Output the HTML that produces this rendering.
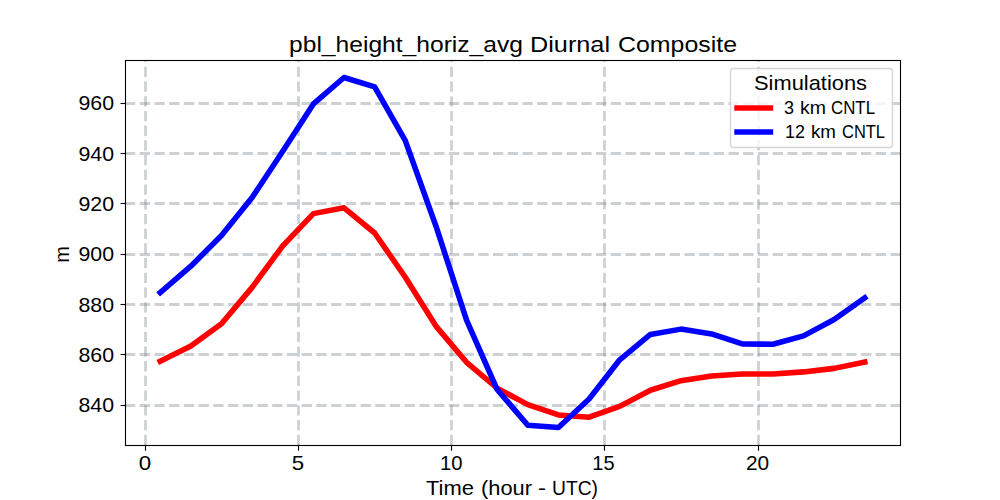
<!DOCTYPE html>
<html><head><meta charset="utf-8"><style>
html,body{margin:0;padding:0;background:#fff;width:1000px;height:500px;overflow:hidden}
svg{display:block}
text{font-family:"Liberation Sans",sans-serif;fill:#000}
</style></head><body>
<svg width="1000" height="500" viewBox="0 0 1000 500">
<rect width="1000" height="500" fill="#fff"/>
<g stroke="rgba(118,128,134,0.36)" stroke-width="2.78" stroke-dasharray="10.28 4.44" fill="none">
<line x1="145.5" y1="445" x2="145.5" y2="60"/>
<line x1="298.5" y1="445" x2="298.5" y2="60"/>
<line x1="451.5" y1="445" x2="451.5" y2="60"/>
<line x1="604.5" y1="445" x2="604.5" y2="60"/>
<line x1="758.5" y1="445" x2="758.5" y2="60"/>
<line x1="125" y1="405.5" x2="900" y2="405.5"/>
<line x1="125" y1="354.5" x2="900" y2="354.5"/>
<line x1="125" y1="304.5" x2="900" y2="304.5"/>
<line x1="125" y1="254.5" x2="900" y2="254.5"/>
<line x1="125" y1="203.5" x2="900" y2="203.5"/>
<line x1="125" y1="153.5" x2="900" y2="153.5"/>
<line x1="125" y1="103.5" x2="900" y2="103.5"/>
</g>
<g fill="none" stroke-width="5.56" stroke-linejoin="round" stroke-linecap="square">
<polyline stroke="#ff0000" points="160.23,361.32 190.86,345.98 221.49,323.83 252.12,287.35 282.76,245.83 313.39,213.63 344.02,207.84 374.65,233.00 405.29,277.28 435.92,326.10 466.55,362.33 497.18,388.25 527.82,404.60 558.45,414.92 589.08,417.18 619.71,406.36 650.35,390.26 680.98,380.70 711.61,375.92 742.24,373.91 772.88,373.91 803.51,371.89 834.14,368.37 864.77,362.08"/>
<polyline stroke="#0000ff" points="160.23,292.63 190.86,266.21 221.49,235.52 252.12,197.52 282.76,151.22 313.39,103.92 344.02,77.50 374.65,86.81 405.29,140.66 435.92,225.95 466.55,320.06 497.18,389.51 527.82,425.24 558.45,427.50 589.08,399.07 619.71,359.81 650.35,334.40 680.98,329.12 711.61,333.90 742.24,343.96 772.88,344.21 803.51,335.91 834.14,319.56 864.77,297.79"/>
</g>
<rect x="125.5" y="60.5" width="775" height="385" fill="none" stroke="#000" stroke-width="1.11"/>
<g stroke="#000" stroke-width="1.11">
<line x1="145.5" y1="444.9" x2="145.5" y2="450.7"/>
<line x1="298.5" y1="444.9" x2="298.5" y2="450.7"/>
<line x1="451.5" y1="444.9" x2="451.5" y2="450.7"/>
<line x1="604.5" y1="444.9" x2="604.5" y2="450.7"/>
<line x1="758.5" y1="444.9" x2="758.5" y2="450.7"/>
<line x1="120.5" y1="405.5" x2="126" y2="405.5"/>
<line x1="120.5" y1="354.5" x2="126" y2="354.5"/>
<line x1="120.5" y1="304.5" x2="126" y2="304.5"/>
<line x1="120.5" y1="254.5" x2="126" y2="254.5"/>
<line x1="120.5" y1="203.5" x2="126" y2="203.5"/>
<line x1="120.5" y1="153.5" x2="126" y2="153.5"/>
<line x1="120.5" y1="103.5" x2="126" y2="103.5"/>
</g>
<g style="font-size:19.8px">
<text x="144.91" y="469.80" text-anchor="middle" textLength="12.40" lengthAdjust="spacingAndGlyphs">0</text>
<text x="298.07" y="469.80" text-anchor="middle" textLength="12.40" lengthAdjust="spacingAndGlyphs">5</text>
<text x="451.24" y="469.80" text-anchor="middle" textLength="22.50" lengthAdjust="spacingAndGlyphs">10</text>
<text x="603.40" y="469.80" text-anchor="middle" textLength="22.30" lengthAdjust="spacingAndGlyphs">15</text>
<text x="757.56" y="469.80" text-anchor="middle" textLength="23.20" lengthAdjust="spacingAndGlyphs">20</text>
<text x="114.10" y="412.20" text-anchor="end" textLength="35.60" lengthAdjust="spacingAndGlyphs">840</text>
<text x="114.10" y="361.88" text-anchor="end" textLength="35.60" lengthAdjust="spacingAndGlyphs">860</text>
<text x="114.10" y="311.56" text-anchor="end" textLength="35.60" lengthAdjust="spacingAndGlyphs">880</text>
<text x="114.10" y="261.23" text-anchor="end" textLength="35.60" lengthAdjust="spacingAndGlyphs">900</text>
<text x="114.10" y="210.91" text-anchor="end" textLength="35.60" lengthAdjust="spacingAndGlyphs">920</text>
<text x="114.10" y="160.59" text-anchor="end" textLength="35.60" lengthAdjust="spacingAndGlyphs">940</text>
<text x="114.10" y="110.26" text-anchor="end" textLength="35.60" lengthAdjust="spacingAndGlyphs">960</text>
</g>
<text x="289.00" y="52.00" style="font-size:22.60px" textLength="234.00" lengthAdjust="spacingAndGlyphs">pbl_height_horiz_avg</text>
<text x="530.00" y="52.00" style="font-size:22.60px" textLength="80.00" lengthAdjust="spacingAndGlyphs">Diurnal</text>
<text x="618.00" y="52.00" style="font-size:22.60px" textLength="119.00" lengthAdjust="spacingAndGlyphs">Composite</text>
<text x="426.00" y="495.30" style="font-size:19.80px" textLength="48.00" lengthAdjust="spacingAndGlyphs">Time</text>
<text x="481.00" y="495.30" style="font-size:19.80px" textLength="51.00" lengthAdjust="spacingAndGlyphs">(hour</text>
<text x="538.00" y="495.30" style="font-size:19.80px" textLength="8.00" lengthAdjust="spacingAndGlyphs">-</text>
<text x="552.00" y="495.30" style="font-size:19.80px" textLength="46.00" lengthAdjust="spacingAndGlyphs">UTC)</text>
<text transform="translate(68.5,254.5) rotate(-90)" text-anchor="middle" style="font-size:19.8px" textLength="16.7" lengthAdjust="spacingAndGlyphs">m</text>
<rect x="730.5" y="68.5" width="162" height="79" rx="3.33" ry="3.33" fill="rgba(255,255,255,0.8)" stroke="rgba(204,204,204,0.8)" stroke-width="1.39"/>
<text x="810.5" y="89.8" text-anchor="middle" style="font-size:19.8px" textLength="112.9" lengthAdjust="spacingAndGlyphs">Simulations</text>
<g stroke-width="5.56" stroke-linecap="square">
<line x1="737.1" y1="108.0" x2="770.4" y2="108.0" stroke="#ff0000"/>
<line x1="737.1" y1="132.0" x2="770.4" y2="132.0" stroke="#0000ff"/>
</g>
<text x="784.00" y="114.00" style="font-size:18.80px" textLength="10.00" lengthAdjust="spacingAndGlyphs">3</text>
<text x="800.00" y="114.00" style="font-size:18.80px" textLength="26.00" lengthAdjust="spacingAndGlyphs">km</text>
<text x="831.00" y="114.00" style="font-size:18.80px" textLength="44.00" lengthAdjust="spacingAndGlyphs">CNTL</text>
<text x="785.00" y="138.00" style="font-size:18.80px" textLength="20.00" lengthAdjust="spacingAndGlyphs">12</text>
<text x="811.00" y="138.00" style="font-size:18.80px" textLength="25.00" lengthAdjust="spacingAndGlyphs">km</text>
<text x="842.00" y="138.00" style="font-size:18.80px" textLength="43.00" lengthAdjust="spacingAndGlyphs">CNTL</text>

</svg>
</body></html>
